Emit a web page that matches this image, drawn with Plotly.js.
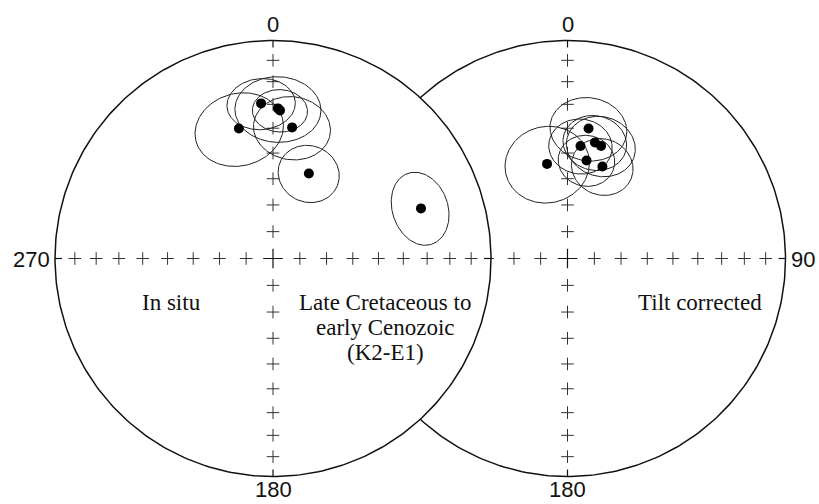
<!DOCTYPE html>
<html><head><meta charset="utf-8">
<script src="https://cdn.plot.ly/plotly-3.0.1.min.js"></script>
<style>html,body{margin:0;padding:0;background:#fff}</style>
</head><body><div id="chart" style="width:819px;height:504px"></div>
<script>
// ---- Data: site-mean directions (declination, inclination, alpha95), degrees ----
// In situ (left net)
const inSituDec = [355.6, 1.9, 345.3, 8.3, 22.9, 71.3, 2.7];
const inSituInc = [29.4, 31.7, 38.3, 39.1, 55.2, 29.1, 32.5];
const inSituA95 = [11, 14, 15, 13, 11, 12, 9];
// Tilt corrected (right net)
const tiltDec = [9.2, 13.3, 16.6, 6.6, 11.0, 20.8, 347.8];
const tiltInc = [39.4, 44.5, 45.2, 46.9, 52.2, 52.8, 53.4];
const tiltA95 = [13, 11, 12, 11, 10, 11, 15];
// Net graticule: inclination marks along the axes
const gridInc = [10, 20, 30, 40, 50, 60, 70, 80];
const axisLabels = ['0', '90', '180', '270'];
const netTitles = ['In situ', 'Tilt corrected'];
const periodLines = ['Late Cretaceous to', 'early Cenozoic', '(K2-E1)'];

// ---- Geometry ----
const W = 819, H = 504, R = 218, CX = 273, CY = 258.5;
const RIGHT_OFF = 294.5 / R;
const d2r = Math.PI / 180;

function eqArea(dec, inc) {
  const r = Math.sqrt(1 - Math.sin(Math.abs(inc) * d2r));
  return [r * Math.sin(dec * d2r), r * Math.cos(dec * d2r)];
}
function smallCircle(dec, inc, a) {
  const D = dec * d2r, I = inc * d2r, A = a * d2r;
  const m = [Math.cos(I) * Math.cos(D), Math.cos(I) * Math.sin(D), Math.sin(I)];
  const u1 = [-Math.sin(I) * Math.cos(D), -Math.sin(I) * Math.sin(D), Math.cos(I)];
  const u2 = [-Math.sin(D), Math.cos(D), 0];
  const xs = [], ys = [];
  for (let k = 0; k <= 180; k++) {
    const t = k * 2 * Math.PI / 180;
    const v = [0, 1, 2].map(j => Math.cos(A) * m[j] + Math.sin(A) * (Math.cos(t) * u1[j] + Math.sin(t) * u2[j]));
    const z = Math.max(-1, Math.min(1, v[2]));
    const r = Math.sqrt(1 - Math.abs(z));
    const h = Math.hypot(v[0], v[1]) || 1;
    xs.push(r * v[1] / h); ys.push(r * v[0] / h);
  }
  return [xs, ys];
}

function netTraces(decs, incs, a95s, x0, filled) {
  const tr = [];
  // primitive circle
  const cx = [], cy = [];
  for (let k = 0; k <= 360; k++) { cx.push(x0 + Math.sin(k * d2r)); cy.push(Math.cos(k * d2r)); }
  const outline = {x: cx, y: cy, mode: 'lines', line: {color: '#111', width: 1.5}, hoverinfo: 'skip'};
  if (filled) { outline.fill = 'toself'; outline.fillcolor = '#ffffff'; }
  tr.push(outline);
  // crosses along N-S and E-W axes
  const px = [], py = [];
  gridInc.forEach(inc => {
    [0, 90, 180, 270].forEach(d => { const p = eqArea(d, inc); px.push(x0 + p[0]); py.push(p[1]); });
  });
  tr.push({x: px, y: py, mode: 'markers', marker: {symbol: 'cross-thin', size: 9, line: {width: 1, color: '#333'}}, hoverinfo: 'skip'});
  tr.push({x: [x0], y: [0], mode: 'markers', marker: {symbol: 'cross-thin', size: 14, line: {width: 1.2, color: '#111'}}, hoverinfo: 'skip'});
  // edge ticks
  const tl = 7 / R, tx = [], ty = [];
  [0, 90, 180, 270].forEach(d => {
    const s = Math.sin(d * d2r), c = Math.cos(d * d2r);
    tx.push(x0 + s, x0 + s * (1 - tl), null); ty.push(c, c * (1 - tl), null);
  });
  tr.push({x: tx, y: ty, mode: 'lines', line: {color: '#111', width: 1.2}, hoverinfo: 'skip'});
  // alpha95 confidence ellipses
  const ex = [], ey = [];
  decs.forEach((d, i) => {
    const sc = smallCircle(d, incs[i], a95s[i]);
    sc[0].forEach((v, k) => { ex.push(x0 + v); ey.push(sc[1][k]); });
    ex.push(null); ey.push(null);
  });
  tr.push({x: ex, y: ey, mode: 'lines', line: {color: '#222', width: 1}, hoverinfo: 'skip'});
  // mean directions
  const mx = [], my = [];
  decs.forEach((d, i) => { const p = eqArea(d, incs[i]); mx.push(x0 + p[0]); my.push(p[1]); });
  tr.push({x: mx, y: my, mode: 'markers', marker: {color: '#000', size: 10}, hoverinfo: 'skip'});
  return tr;
}

const data = [].concat(
  netTraces(tiltDec, tiltInc, tiltA95, RIGHT_OFF, false),
  netTraces(inSituDec, inSituInc, inSituA95, 0, true)
);

const numFont = {family: 'Liberation Sans, Arial, sans-serif', size: 22, color: '#111'};
const txtFont = {family: 'Liberation Serif, Times New Roman, serif', size: 23, color: '#111'};
const py = p => (CY - p) / R, pxc = p => (p - CX) / R;
const ann = [
  {x: 0, y: py(24), text: axisLabels[0], font: numFont},
  {x: RIGHT_OFF, y: py(24), text: axisLabels[0], font: numFont},
  {x: 0, y: py(504), text: axisLabels[2], font: numFont, yanchor: 'bottom'},
  {x: RIGHT_OFF, y: py(504), text: axisLabels[2], font: numFont, yanchor: 'bottom'},
  {x: pxc(31), y: py(259), text: axisLabels[3], font: numFont},
  {x: pxc(803), y: py(259), text: axisLabels[1], font: numFont},
  {x: pxc(171), y: py(302), text: netTitles[0], font: txtFont},
  {x: pxc(700), y: py(302), text: netTitles[1], font: txtFont},
  {x: pxc(385), y: py(302), text: periodLines[0], font: txtFont},
  {x: pxc(385), y: py(327), text: periodLines[1], font: txtFont},
  {x: pxc(385), y: py(352), text: periodLines[2], font: txtFont}
].map(a => Object.assign({showarrow: false, xanchor: 'center', yanchor: 'middle', xref: 'x', yref: 'y'}, a));

const layout = {
  width: W, height: H, autosize: false,
  margin: {l: 0, r: 0, t: 0, b: 0, pad: 0},
  paper_bgcolor: '#fff', plot_bgcolor: '#fff',
  showlegend: false,
  xaxis: {range: [-CX / R, (W - CX) / R], visible: false, fixedrange: true},
  yaxis: {range: [(CY - H) / R, CY / R], visible: false, fixedrange: true},
  annotations: ann
};
Plotly.newPlot('chart', data, layout, {staticPlot: true, displayModeBar: false});
</script></body></html>
